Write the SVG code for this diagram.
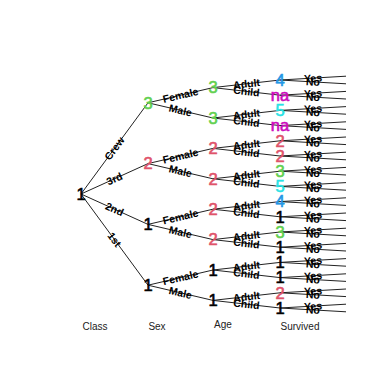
<svg xmlns="http://www.w3.org/2000/svg" width="388" height="388" viewBox="0 0 388 388">
<style>
.e{stroke:#222;stroke-width:1;fill:none}
.el{font-family:"Liberation Sans",Arial,sans-serif;font-size:10.5px;font-weight:bold;fill:#000;text-anchor:middle}
.n{font-family:"Liberation Sans",Arial,sans-serif;font-size:16.5px;text-anchor:middle;stroke-width:0.6px}
.ax{font-family:"Liberation Sans",Arial,sans-serif;font-size:10px;fill:#222;text-anchor:middle}
.k{fill:#000;stroke:#000}.r{fill:#DF536B;stroke:#DF536B}.g{fill:#61D04F;stroke:#61D04F}.b{fill:#2297E6;stroke:#2297E6}.c{fill:#28E2E5;stroke:#28E2E5}.m{fill:#CD0BBC;stroke:#CD0BBC}
</style>
<rect width="388" height="388" fill="#fff"/>
<g id="connectors">
<path class="e" d="M81,194L148,102.8M81,194L148,163.6M81,194L148,224.4M81,194L148,285.2"/>
<path class="e" d="M148,102.8L213,87.6M148,102.8L213,118M148,163.6L213,148.4M148,163.6L213,178.8M148,224.4L213,209.2M148,224.4L213,239.6M148,285.2L213,270M148,285.2L213,300.4"/>
<path class="e" d="M213,87.6L280,80M213,87.6L280,95.2M213,118L280,110.4M213,118L280,125.6M213,148.4L280,140.8M213,148.4L280,156M213,178.8L280,171.2M213,178.8L280,186.4M213,209.2L280,201.6M213,209.2L280,216.8M213,239.6L280,232M213,239.6L280,247.2M213,270L280,262.4M213,270L280,277.6M213,300.4L280,292.8M213,300.4L280,308"/>
<path class="e" d="M280,80L346,76.2M280,80L346,83.8M280,95.2L346,91.4M280,95.2L346,99M280,110.4L346,106.6M280,110.4L346,114.2M280,125.6L346,121.8M280,125.6L346,129.4M280,140.8L346,137M280,140.8L346,144.6M280,156L346,152.2M280,156L346,159.8M280,171.2L346,167.4M280,171.2L346,175M280,186.4L346,182.6M280,186.4L346,190.2M280,201.6L346,197.8M280,201.6L346,205.4M280,216.8L346,213M280,216.8L346,220.6M280,232L346,228.2M280,232L346,235.8M280,247.2L346,243.4M280,247.2L346,251M280,262.4L346,258.6M280,262.4L346,266.2M280,277.6L346,273.8M280,277.6L346,281.4M280,292.8L346,289M280,292.8L346,296.6M280,308L346,304.2M280,308L346,311.8"/>
<g id="edge-labels">
<text class="el" transform="translate(114.5,148.4) rotate(-53.7)" dy=".35em">Crew</text>
<text class="el" transform="translate(114.5,178.8) rotate(-24.4)" dy=".35em">3rd</text>
<text class="el" transform="translate(114.5,209.2) rotate(24.4)" dy=".35em">2nd</text>
<text class="el" transform="translate(114.5,239.6) rotate(53.7)" dy=".35em">1st</text>
<text class="el" transform="translate(180.5,95.2) rotate(-13.2)" dy=".35em">Female</text>
<text class="el" transform="translate(180.5,110.4) rotate(13.2)" dy=".35em">Male</text>
<text class="el" transform="translate(180.5,156) rotate(-13.2)" dy=".35em">Female</text>
<text class="el" transform="translate(180.5,171.2) rotate(13.2)" dy=".35em">Male</text>
<text class="el" transform="translate(180.5,216.8) rotate(-13.2)" dy=".35em">Female</text>
<text class="el" transform="translate(180.5,232) rotate(13.2)" dy=".35em">Male</text>
<text class="el" transform="translate(180.5,277.6) rotate(-13.2)" dy=".35em">Female</text>
<text class="el" transform="translate(180.5,292.8) rotate(13.2)" dy=".35em">Male</text>
<text class="el" transform="translate(246.5,83.8) rotate(-6.5)" dy=".35em">Adult</text>
<text class="el" transform="translate(246.5,91.4) rotate(6.5)" dy=".35em">Child</text>
<text class="el" transform="translate(246.5,114.2) rotate(-6.5)" dy=".35em">Adult</text>
<text class="el" transform="translate(246.5,121.8) rotate(6.5)" dy=".35em">Child</text>
<text class="el" transform="translate(246.5,144.6) rotate(-6.5)" dy=".35em">Adult</text>
<text class="el" transform="translate(246.5,152.2) rotate(6.5)" dy=".35em">Child</text>
<text class="el" transform="translate(246.5,175) rotate(-6.5)" dy=".35em">Adult</text>
<text class="el" transform="translate(246.5,182.6) rotate(6.5)" dy=".35em">Child</text>
<text class="el" transform="translate(246.5,205.4) rotate(-6.5)" dy=".35em">Adult</text>
<text class="el" transform="translate(246.5,213) rotate(6.5)" dy=".35em">Child</text>
<text class="el" transform="translate(246.5,235.8) rotate(-6.5)" dy=".35em">Adult</text>
<text class="el" transform="translate(246.5,243.4) rotate(6.5)" dy=".35em">Child</text>
<text class="el" transform="translate(246.5,266.2) rotate(-6.5)" dy=".35em">Adult</text>
<text class="el" transform="translate(246.5,273.8) rotate(6.5)" dy=".35em">Child</text>
<text class="el" transform="translate(246.5,296.6) rotate(-6.5)" dy=".35em">Adult</text>
<text class="el" transform="translate(246.5,304.2) rotate(6.5)" dy=".35em">Child</text>
<text class="el" transform="translate(313,78.1) rotate(-3.3)" dy=".35em">Yes</text>
<text class="el" transform="translate(313,81.9) rotate(3.3)" dy=".35em">No</text>
<text class="el" transform="translate(313,93.3) rotate(-3.3)" dy=".35em">Yes</text>
<text class="el" transform="translate(313,97.1) rotate(3.3)" dy=".35em">No</text>
<text class="el" transform="translate(313,108.5) rotate(-3.3)" dy=".35em">Yes</text>
<text class="el" transform="translate(313,112.3) rotate(3.3)" dy=".35em">No</text>
<text class="el" transform="translate(313,123.7) rotate(-3.3)" dy=".35em">Yes</text>
<text class="el" transform="translate(313,127.5) rotate(3.3)" dy=".35em">No</text>
<text class="el" transform="translate(313,138.9) rotate(-3.3)" dy=".35em">Yes</text>
<text class="el" transform="translate(313,142.7) rotate(3.3)" dy=".35em">No</text>
<text class="el" transform="translate(313,154.1) rotate(-3.3)" dy=".35em">Yes</text>
<text class="el" transform="translate(313,157.9) rotate(3.3)" dy=".35em">No</text>
<text class="el" transform="translate(313,169.3) rotate(-3.3)" dy=".35em">Yes</text>
<text class="el" transform="translate(313,173.1) rotate(3.3)" dy=".35em">No</text>
<text class="el" transform="translate(313,184.5) rotate(-3.3)" dy=".35em">Yes</text>
<text class="el" transform="translate(313,188.3) rotate(3.3)" dy=".35em">No</text>
<text class="el" transform="translate(313,199.7) rotate(-3.3)" dy=".35em">Yes</text>
<text class="el" transform="translate(313,203.5) rotate(3.3)" dy=".35em">No</text>
<text class="el" transform="translate(313,214.9) rotate(-3.3)" dy=".35em">Yes</text>
<text class="el" transform="translate(313,218.7) rotate(3.3)" dy=".35em">No</text>
<text class="el" transform="translate(313,230.1) rotate(-3.3)" dy=".35em">Yes</text>
<text class="el" transform="translate(313,233.9) rotate(3.3)" dy=".35em">No</text>
<text class="el" transform="translate(313,245.3) rotate(-3.3)" dy=".35em">Yes</text>
<text class="el" transform="translate(313,249.1) rotate(3.3)" dy=".35em">No</text>
<text class="el" transform="translate(313,260.5) rotate(-3.3)" dy=".35em">Yes</text>
<text class="el" transform="translate(313,264.3) rotate(3.3)" dy=".35em">No</text>
<text class="el" transform="translate(313,275.7) rotate(-3.3)" dy=".35em">Yes</text>
<text class="el" transform="translate(313,279.5) rotate(3.3)" dy=".35em">No</text>
<text class="el" transform="translate(313,290.9) rotate(-3.3)" dy=".35em">Yes</text>
<text class="el" transform="translate(313,294.7) rotate(3.3)" dy=".35em">No</text>
<text class="el" transform="translate(313,306.1) rotate(-3.3)" dy=".35em">Yes</text>
<text class="el" transform="translate(313,309.9) rotate(3.3)" dy=".35em">No</text>
</g>
</g>
<g id="root"><text class="n k" x="81" y="194" dy=".35em">1</text></g>
<g id="crew"><text class="n g" x="148" y="102.8" dy=".35em">3</text></g>
<g id="third"><text class="n r" x="148" y="163.6" dy=".35em">2</text></g>
<g id="second"><text class="n k" x="148" y="224.4" dy=".35em">1</text></g>
<g id="first"><text class="n k" x="148" y="285.2" dy=".35em">1</text></g>
<g id="crew-female"><text class="n g" x="213" y="87.6" dy=".35em">3</text></g>
<g id="crew-male"><text class="n g" x="213" y="118" dy=".35em">3</text></g>
<g id="third-female"><text class="n r" x="213" y="148.4" dy=".35em">2</text></g>
<g id="third-male"><text class="n r" x="213" y="178.8" dy=".35em">2</text></g>
<g id="second-female"><text class="n r" x="213" y="209.2" dy=".35em">2</text></g>
<g id="second-male"><text class="n r" x="213" y="239.6" dy=".35em">2</text></g>
<g id="first-female"><text class="n k" x="213" y="270" dy=".35em">1</text></g>
<g id="first-male"><text class="n k" x="213" y="300.4" dy=".35em">1</text></g>
<g id="crew-female-adult"><text class="n b" x="280" y="80" dy=".35em">4</text></g>
<g id="crew-female-child"><text class="n m" x="280" y="95.2" dy=".35em">na</text></g>
<g id="crew-male-adult"><text class="n c" x="280" y="110.4" dy=".35em">5</text></g>
<g id="crew-male-child"><text class="n m" x="280" y="125.6" dy=".35em">na</text></g>
<g id="third-female-adult"><text class="n r" x="280" y="140.8" dy=".35em">2</text></g>
<g id="third-female-child"><text class="n r" x="280" y="156" dy=".35em">2</text></g>
<g id="third-male-adult"><text class="n g" x="280" y="171.2" dy=".35em">3</text></g>
<g id="third-male-child"><text class="n c" x="280" y="186.4" dy=".35em">5</text></g>
<g id="second-female-adult"><text class="n b" x="280" y="201.6" dy=".35em">4</text></g>
<g id="second-female-child"><text class="n k" x="280" y="216.8" dy=".35em">1</text></g>
<g id="second-male-adult"><text class="n g" x="280" y="232" dy=".35em">3</text></g>
<g id="second-male-child"><text class="n k" x="280" y="247.2" dy=".35em">1</text></g>
<g id="first-female-adult"><text class="n k" x="280" y="262.4" dy=".35em">1</text></g>
<g id="first-female-child"><text class="n k" x="280" y="277.6" dy=".35em">1</text></g>
<g id="first-male-adult"><text class="n r" x="280" y="292.8" dy=".35em">2</text></g>
<g id="first-male-child"><text class="n k" x="280" y="308" dy=".35em">1</text></g>
<g id="axis">
<text class="ax" x="95" y="329.5">Class</text>
<text class="ax" x="157" y="329.5">Sex</text>
<text class="ax" x="223" y="328">Age</text>
<text class="ax" x="300" y="329.5">Survived</text>
</g>
</svg>
